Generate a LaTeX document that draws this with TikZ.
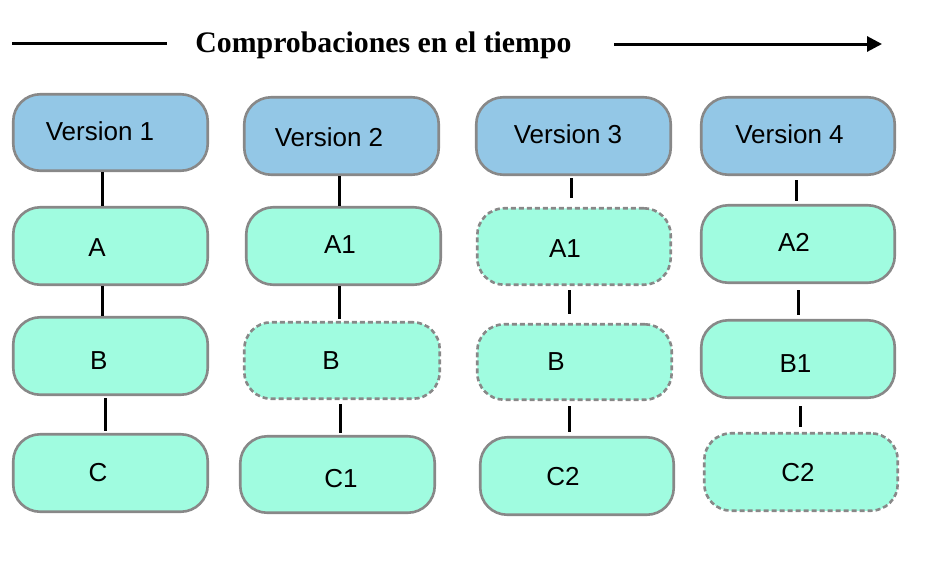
\documentclass[tikz,border=0pt]{standalone}
\usepackage{fontspec}
\setmainfont{Liberation Serif}
\newfontfamily\hvfont{Liberation Sans}
\usetikzlibrary{arrows.meta}
\definecolor{verblue}{HTML}{93C7E6}
\definecolor{filegreen}{HTML}{A0FCE0}
\definecolor{bordergray}{HTML}{888888}
\newcommand\mybox[6]{%
  \pgfmathsetmacro\bxcx{(#3+#5)/2}%
  \pgfmathsetmacro\bxcy{(#4+#6)/2}%
  \pgfmathsetmacro\bxw{#5-#3-2.5}%
  \pgfmathsetmacro\bxh{#6-#4-2.5}%
  \node[#2, minimum width=\bxw pt, minimum height=\bxh pt] (#1) at (\bxcx,-\bxcy) {};}
\tikzset{
  basebox/.style={rectangle, rounded corners=27pt, draw=bordergray, line width=2.6pt, inner sep=0pt},
  verbox/.style={basebox, fill=verblue},
  filebox/.style={basebox, fill=filegreen},
  samebox/.style={basebox, fill=filegreen, dash pattern=on 5pt off 3pt},
  lbl/.style={anchor=base, inner sep=0pt, font=\hvfont\fontsize{26}{30}\selectfont},
  conn/.style={line width=3pt, black},
  titlefont/.style={font=\bfseries\fontsize{29.8}{34}\selectfont, anchor=base, inner sep=0pt}
}
\begin{document}
\begin{tikzpicture}[x=1pt,y=1pt]
\useasboundingbox (0,0) rectangle (934,-560);
% title
\node[titlefont] (title) at (383.5,-52) {Comprobaciones en el tiempo};
\coordinate (tla) at (12,-43);
\coordinate (tlb) at (167,-43);
\coordinate (tra) at (614,-44);
\coordinate (trb) at (882,-44);
\draw[line width=3pt] (tla) -- (tlb);
\draw[line width=3pt, -{Triangle[length=15pt,width=15pt]}] (tra) -- (trb);
% boxes
\mybox{v1}{verbox}{12}{93}{209}{172}
\mybox{v2}{verbox}{243}{96}{440}{176}
\mybox{v3}{verbox}{475}{96}{672}{176}
\mybox{v4}{verbox}{700}{96}{896}{176}
\mybox{a1}{filebox}{12}{206}{209}{286}
\mybox{b1}{filebox}{12}{316}{209}{396}
\mybox{c1}{filebox}{12}{433}{209}{513}
\mybox{a2}{filebox}{245}{206}{442}{286}
\mybox{b2}{samebox}{243}{321}{441}{400}
\mybox{c2}{filebox}{239}{435}{436}{514}
\mybox{a3}{samebox}{476}{207}{672}{286}
\mybox{b3}{samebox}{476}{323}{673}{401}
\mybox{c3}{filebox}{479}{436}{675}{516}
\mybox{a4}{filebox}{700}{204}{896}{284}
\mybox{b4}{filebox}{700}{319}{896}{399}
\mybox{c4}{samebox}{703}{432}{899}{512}
% labels
\node[lbl] (v1t) at (100,-140) {Version 1};
\node[lbl] (v2t) at (329,-146.7) {Version 2};
\node[lbl] (v3t) at (568,-143.3) {Version 3};
\node[lbl] (v4t) at (789.5,-143.3) {Version 4};
\node[lbl] (a1t) at (97,-256) {A};
\node[lbl] (b1t) at (98.7,-369.3) {B};
\node[lbl] (c1t) at (98,-481) {C};
\node[lbl] (a2t) at (340,-253.3) {A1};
\node[lbl] (b2t) at (331,-369.3) {B};
\node[lbl] (c2t) at (341,-487.3) {C1};
\node[lbl] (a3t) at (565,-257.3) {A1};
\node[lbl] (b3t) at (556,-370) {B};
\node[lbl] (c3t) at (563,-485.3) {C2};
\node[lbl] (a4t) at (794,-251) {A2};
\node[lbl] (b4t) at (795.5,-372.3) {B1};
\node[lbl] (c4t) at (798,-481) {C2};
% connectors
\draw[conn] (v1.south -| 102,0) -- (a1.north -| 102,0);
\draw[conn] (a1.south -| 102,0) -- (b1.north -| 102,0);
\draw[conn, shorten <=2pt, shorten >=2pt] (b1.south -| 105,0) -- (c1.north -| 105,0);
\draw[conn] (v2.south -| 339,0) -- (a2.north -| 339,0);
\draw[conn, shorten >=2pt] (a2.south -| 339,0) -- (b2.north -| 339,0);
\draw[conn, shorten <=4pt, shorten >=2pt] (b2.south -| 340,0) -- (c2.north -| 340,0);
\draw[conn, shorten <=2pt, shorten >=9pt] (v3.south -| 571,0) -- (a3.north -| 571,0);
\draw[conn, shorten <=4pt, shorten >=9pt] (a3.south -| 569,0) -- (b3.north -| 569,0);
\draw[conn, shorten <=5pt, shorten >=4pt] (b3.south -| 569,0) -- (c3.north -| 569,0);
\draw[conn, shorten <=4pt, shorten >=3pt] (v4.south -| 796,0) -- (a4.north -| 796,0);
\draw[conn, shorten <=6pt, shorten >=4pt] (a4.south -| 798,0) -- (b4.north -| 798,0);
\draw[conn, shorten <=7pt, shorten >=5pt] (b4.south -| 800,0) -- (c4.north -| 800,0);
\end{tikzpicture}
\end{document}
